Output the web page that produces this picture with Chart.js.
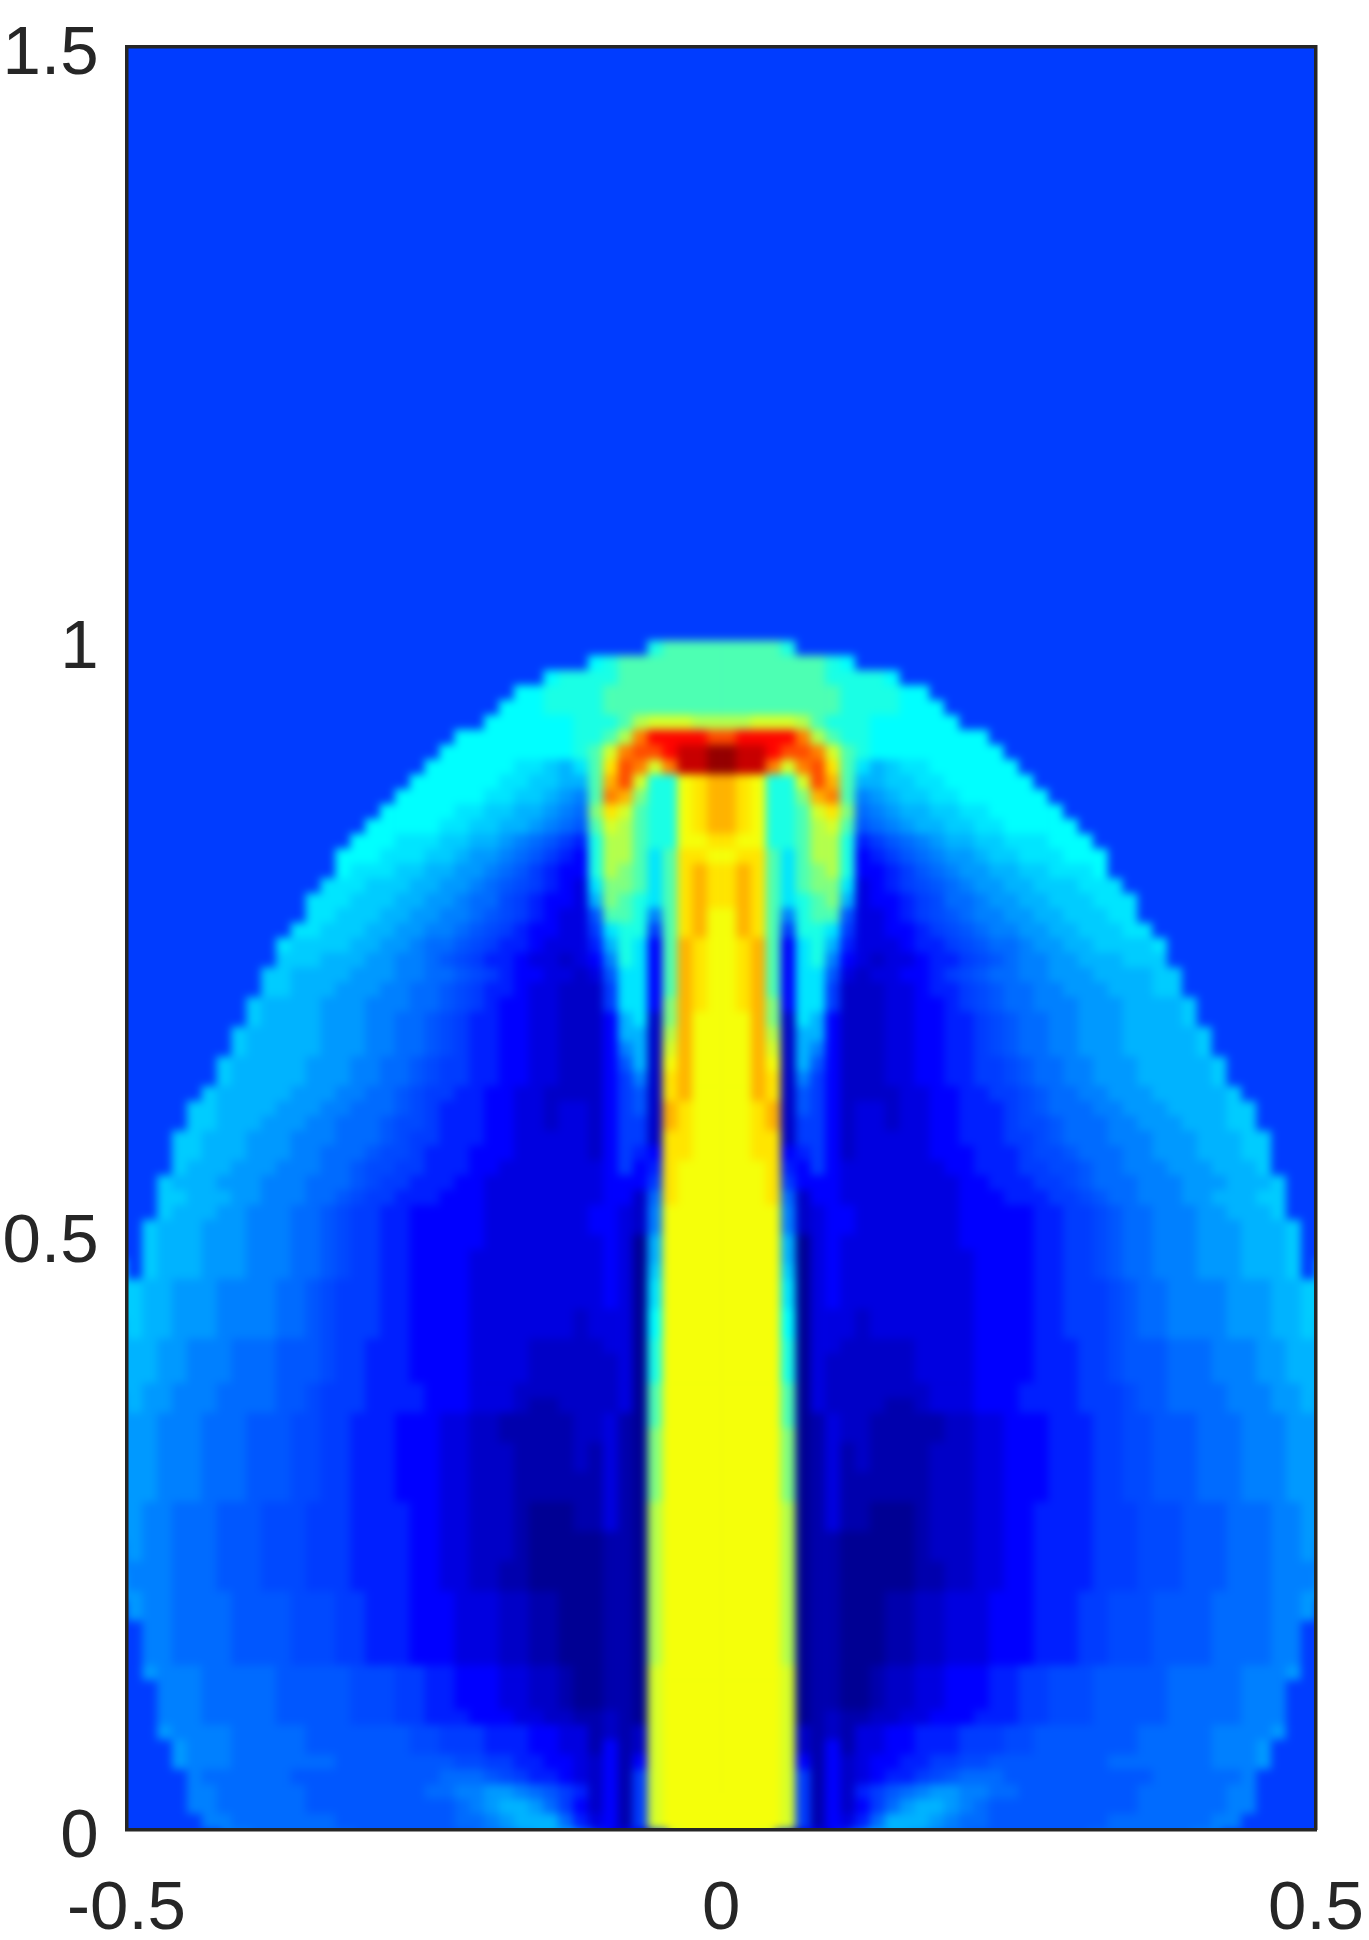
<!DOCTYPE html>
<html>
<head>
<meta charset="utf-8">
<title>Density field</title>
<script src="https://cdn.jsdelivr.net/npm/chart.js@4"></script>
<style>
    html, body { margin: 0; padding: 0; background: #fff; }
    #page { position: relative; width: 1369px; height: 1940px; overflow: hidden; }
    #fieldClip { position: absolute; left: 127px; top: 47px; width: 1189px; height: 1782px; overflow: hidden; background: #003cff; }
    #field { position: absolute; left: -40px; top: -40px; filter: blur(4.5px); }
    #frame { position: absolute; left: 0; top: 0; }
</style>
</head>
<body>
<div id="page">
    <div id="fieldClip"><canvas id="field" width="1269" height="1862"></canvas></div>
    <canvas id="frame" width="1369" height="1940"></canvas>
</div>
<script>
// Tick labels
const xTicks = [-0.5, 0, 0.5];
const yTicks = [0, 0.5, 1, 1.5];

// One letter per colour level, a = darkest blue ... u = darkest red,
// upper case letters are the steps in between for the blue part
const levelChars = 'aAbBcCdDeEfFgGhHijklmnopqrstu';
const levelValues = [0.02, 0.045, 0.07, 0.095, 0.125, 0.155, 0.184, 0.197, 0.21, 0.23, 0.25, 0.275, 0.30, 0.325, 0.35, 0.375,
    0.40, 0.45, 0.50, 0.55, 0.585, 0.615, 0.65, 0.70, 0.75, 0.80, 0.87, 0.93, 0.98];

// Cell size in data units
const cellSize = 0.0125;

// Right half of the field, from the top row (y = 1.5) to the
// bottom row (y = 0), starting at x = 0. The left half is its mirror image.
const fieldRows = [
    // above the bow shock, y 1.5 to 1
    'dddddddddddddddddddddddddddddddddddddddd', 'dddddddddddddddddddddddddddddddddddddddd',
    'dddddddddddddddddddddddddddddddddddddddd', 'dddddddddddddddddddddddddddddddddddddddd',
    'dddddddddddddddddddddddddddddddddddddddd', 'dddddddddddddddddddddddddddddddddddddddd',
    'dddddddddddddddddddddddddddddddddddddddd', 'dddddddddddddddddddddddddddddddddddddddd',
    'dddddddddddddddddddddddddddddddddddddddd', 'dddddddddddddddddddddddddddddddddddddddd',
    'dddddddddddddddddddddddddddddddddddddddd', 'dddddddddddddddddddddddddddddddddddddddd',
    'dddddddddddddddddddddddddddddddddddddddd', 'dddddddddddddddddddddddddddddddddddddddd',
    'dddddddddddddddddddddddddddddddddddddddd', 'dddddddddddddddddddddddddddddddddddddddd',
    'dddddddddddddddddddddddddddddddddddddddd', 'dddddddddddddddddddddddddddddddddddddddd',
    'dddddddddddddddddddddddddddddddddddddddd', 'dddddddddddddddddddddddddddddddddddddddd',
    'dddddddddddddddddddddddddddddddddddddddd', 'dddddddddddddddddddddddddddddddddddddddd',
    'dddddddddddddddddddddddddddddddddddddddd', 'dddddddddddddddddddddddddddddddddddddddd',
    'dddddddddddddddddddddddddddddddddddddddd', 'dddddddddddddddddddddddddddddddddddddddd',
    'dddddddddddddddddddddddddddddddddddddddd', 'dddddddddddddddddddddddddddddddddddddddd',
    'dddddddddddddddddddddddddddddddddddddddd', 'dddddddddddddddddddddddddddddddddddddddd',
    'dddddddddddddddddddddddddddddddddddddddd', 'dddddddddddddddddddddddddddddddddddddddd',
    'dddddddddddddddddddddddddddddddddddddddd', 'dddddddddddddddddddddddddddddddddddddddd',
    'dddddddddddddddddddddddddddddddddddddddd', 'dddddddddddddddddddddddddddddddddddddddd',
    'dddddddddddddddddddddddddddddddddddddddd', 'dddddddddddddddddddddddddddddddddddddddd',
    'dddddddddddddddddddddddddddddddddddddddd', 'dddddddddddddddddddddddddddddddddddddddd',
    // head of the jet, y 1 to 0.875
    'jjjji',
    'jjjjjjjiH',
    'jjjjjjjiiiiH',
    'jjjjjjjjiiiiHH',
    'jjjjjjjjiiiiHHH',
    'llmmmljiiiHHHHHH',
    'rssssqljiiHHHHHHHH',
    'uttsrrqmjiHHHHHHHHH',
    'uttqmqrojhgGhhHHHHHH',
    'poniimrpjggGGhhHHHHHH',
    // lobes beside the jet
    'poniikpqjfFgGGhhHHHHHH',
    'poniijmokEfFggGGhhHHHHH',
    'poniijlmjeEfFggGGhhHHHHH',
    'onniijlliCdeEfFggGGhhhHHH',
    'noojhjllicCdeEfFFgGGhhhHHH',
    'opojhjkliccCdeEfFFggGGhhhH',
    'opojhjkkhBcCdDeEfFFggGGGhhh',
    'opojhijkgBccCdDEEfFFggGGGhhh',
    'npojfijjeBBcCdDeEffFFggGGGhh',
    'npojdiihdBBccCdDeEffFFggGGGhh',
    'nopjchigCBBBcCCdDeEEfFFggGGGGh',
    'nopjchifcBbBBcCCdDeEffFFgggGGG',
    'nopjchheBbBBccCdDeEEffFFFggggGG',
    'nopjchhdbbbBBcCCdDeEEffFFFgggGG',
    'nopkchhdbbbBBccCdDeEEfffFFFggggG',
    'nnpkbhgcbbbBBccCCdDeEEffFFFggggG',
    'nnplbggcbbbBBccCCdDeEEffFFFgggggG',
    'nnpmbgfcbbbBBccCCdDeEEffFFFgggggG',
    'nnpnbgecbbbBBccCCddDeEEffFFFgggggG',
    'nnpobfdcbbbBBccCCddDeEEffFFFgggggG',
    'nnpobedcbbbbBBccCCddDeEEffFFFgggggG',
    // jet column, y 0.6 to 0
    'nnopbedcbBBbBBccCCCdDeEEEffFFFggggGG',
    'nnopbddcbBBbBBccCCCdDDeEEEffFFFgggGG',
    'nnoobddcbBBBBBccCCCddDeEEEfffFFFgggGG',
    'nnoocCdcbBBBBBcccCCCdDDeEEEffFFFgggGG',
    'nnnoCcdcBBBBBBBccCCCddDDeEEfffFFFgggG',
    'nnnodcccBBBBBBBBccCCCddDeEEEfffFFFgggG',
    'nnnoEbccBBBBBBBBcccCCCddDeEEfffFFgggGG',
    'nnnnfbBccBBBBBBBcccccCCddDeEEfffFFgggG',
    'nnnnfbBccBBBBBBBcccccCCddDeEEfffFFFgggG',
    'nnnngaBcBBBBBBBBcccccCCddDeEEfffFFFgggG',
    'nnnngaBcBBBBBBBBBccccCCddDeEEfffFFFgggG',
    'nnnnGaBcBBBBBBBBBccccCCddDeEEfffFFFgggG',
    'nnnnhaBcBBBBBBBBBccccCCdddDeEEffffFFFggG',
    'nnnnhaBcBBBBBBBBBccccCCdddDeEEffffFFFggG',
    'nnnnHaBBBbBBBBBBBccccCCdddDeEEffffFFFggG',
    'nnnnHaBBBbBBBBBBBccccCCdddDeEEffffFFFggG',
    'nnnniaBBbbbbbBBBBccccCCCddDeeeEEEfffFFgg',
    'nnnniaBbbbbbbBBBBccccCCCddDeeeEEEfffFFgg',
    'nnnniaBbbbbbbBBBBccccCCCddDeeeEEEfffFFgg',
    'nnnnjaBbbbbbbbBBBcccCCCCdddDeeEEEEfffFFg',
    'nnnnjaBbbbbAAbBBBcccCCCCdddDeeEEEEfffFFg',
    'nnnnjaABbbAAAAAbbBBcccCCCddDDeeeEEEfffFF',
    'nnnnkaABbbAAAAAbbBBcccCCCddDDeeeEEEfffFF',
    'nnnnkaABAbAAAAbbbBBcccCCCddDDeeeEEEfffFF',
    'nnnnkaABAbAAAAbbbBBcccCCCddDDeeeEEEfffFF',
    'nnnnkaABAAAAAAbbbBBcccCCCddDDeeeEEEfffFF',
    'nnnnkaABAAAAAAbbbBBcccCCCddDDeeeEEEfffFF',
    'nnnnlaABAAaaaAbbbBBccCCCCdddDDDeeeEEEffF',
    'nnnnlaABAAaaaAbbbBBccCCCCdddDDDeeeEEEffF',
    'nnnnlaAAaaaaaAbbbBBccCCCCdddDDDeeeEEEffF',
    'nnnnlaAAaaaaaAbbbBBccCCCCdddDDDeeeEEEffF',
    'nnnnlaAAaaaaaAAbbBBccCCCCdddDDDeeeEEEfff',
    'nnnnlaAAaaaaaAAbbBBccCCCCdddDDDeeeEEEfff',
    'nnnnlaAAaaaAAbbBBBcccCCCddDDDeeeeEEEEffF',
    'nnnnlaAAaaaAAbbBBBcccCCCddDDDeeeeEEEEffF',
    'nnnnlaAAaaaAAbbBBBcccCCCddDDDeeeeEEEEff',
    'nnnnlaAAaaaAAbbBBBcccCCCddDDDeeeeEEEEff',
    'nnnnlaAAaaaAAbbBBBcccCCCddDDDeeeeEEEEff',
    'nnnnmaAAaaAbbBBcccCCddDDDeeeeeEEEEEfffF',
    'nnnnmaAAaaAbbBBcccCCddDDDeeeeeEEEEEfff',
    'nnnnmaAAaaAbbBBcccCCddDDDeeeeeEEEEEfff',
    'nnnnmaAbAAbbBBcccCCCddDDDeeeeeEEEEEfff',
    'nnnnmbAbABBccCCCdddDDeeeeeeeEEEEEffffF',
    'nnnnmbAcABBccCCCdddDDeeeeeeeEEEEEfffF',
    'nnnnmcAcbBccCCddDDeeeeeeeeEEEEEEEfffF',
    'nnnnmdAcbBcCCdDeEEEeeeeeeeeeeEEEEEEf',
    'nnnnmdAcbCdeEfFFffEEeeeeeeeeEEEEEEff',
    'nnnnmdAcbcdEFggFfEeeeeeeeeeeEEEEEEff',
    'nnnnmdAcBCEgggFfEEeeeeeeeeEEEEEEEff'
];

// Matlab style jet colour map
function jetColor(v) {
    let r = 0, g = 0, b = 0;
    if (v < 0.125) {
        b = 127 + v / 0.125 * 128;
    } else if (v < 0.375) {
        g = (v - 0.125) / 0.25 * 255;
        b = 255;
    } else if (v < 0.625) {
        r = (v - 0.375) / 0.25 * 255;
        g = 255;
        b = 255 - r;
    } else if (v < 0.875) {
        r = 255;
        g = 255 - (v - 0.625) / 0.25 * 255;
    } else {
        r = 255 - (v - 0.875) / 0.125 * 127;
    }
    return `rgb(${Math.round(r)},${Math.round(g)},${Math.round(b)})`;
}

// Build the cells of both halves. Columns past the end of a row are outside the shock.
const cells = [];
const cellColors = [];
const edgeCells = [];
const edgeColors = [];
const rowCount = fieldRows.length;
const halfColumns = 40;

fieldRows.forEach((text, rowIndex) => {
    const row = text.padEnd(halfColumns, 'd');
    const y = (rowCount - rowIndex - 0.5) * cellSize;
    for (let col = 0; col < halfColumns; col++) {
        const color = jetColor(levelValues[levelChars.indexOf(row[col])]);
        const offset = (col + 0.5) * cellSize;
        [-offset, offset].forEach(x => {
            cells.push({ x, y });
            cellColors.push(color);
            if (col === halfColumns - 1 || rowIndex === 0 || rowIndex === rowCount - 1) {
                edgeCells.push({ x, y });
                edgeColors.push(color);
            }
        });
    }
});

const plotRange = { xMin: -0.5, xMax: 0.5, yMin: 0, yMax: 1.5 };

// Blurred field, on its own canvas so the axes stay sharp
new Chart(document.getElementById('field').getContext('2d'), {
    type: 'scatter',
    data: {
        datasets: [{
            data: cells,
            pointStyle: 'rect',
            pointRadius: 11,
            pointBorderWidth: 0,
            pointBackgroundColor: cellColors,
            clip: false
        }, {
            // bigger copies of the border cells so the blur has something to spread at the edges
            data: edgeCells,
            pointStyle: 'rect',
            pointRadius: 40,
            pointBorderWidth: 0,
            pointBackgroundColor: edgeColors,
            clip: false
        }]
    },
    options: {
        responsive: false,
        animation: false,
        events: [],
        layout: { padding: 40 },
        plugins: { legend: { display: false }, tooltip: { enabled: false } },
        scales: {
            x: { display: false, min: plotRange.xMin, max: plotRange.xMax },
            y: { display: false, min: plotRange.yMin, max: plotRange.yMax }
        }
    }
});

const axisColor = '#262626';
const labelFont = '"Liberation Sans", Arial, sans-serif';

function axisOptions(position, min, max, ticks, size) {
    const horizontal = position === 'top' || position === 'bottom';
    return {
        type: 'linear',
        position,
        min,
        max,
        afterBuildTicks: scale => {
            scale.ticks = ticks.map(value => ({ value }));
        },
        afterFit: scale => {
            if (horizontal) {
                scale.height = size;
            } else {
                scale.width = size;
            }
            scale.paddingLeft = scale.paddingRight = scale.paddingTop = scale.paddingBottom = 0;
        },
        border: { display: true, color: axisColor, width: 3.5 },
        grid: { drawOnChartArea: false, drawTicks: false },
        ticks: { display: false }
    };
}

const xAxis = axisOptions('bottom', plotRange.xMin, plotRange.xMax, xTicks, 110.5);
xAxis.ticks = {
    display: true,
    autoSkip: false,
    maxRotation: 0,
    padding: 39,
    color: axisColor,
    font: { family: labelFont, size: 69 },
    callback: value => String(value)
};

const yAxis = axisOptions('left', plotRange.yMin, plotRange.yMax, yTicks, 126.5);
yAxis.ticks = {
    display: true,
    autoSkip: false,
    padding: 28,
    color: axisColor,
    // the short line height and empty first line push the label a little below its tick
    font: { family: labelFont, size: 69, lineHeight: '16px' },
    callback: value => ['', String(value)]
};

// Axes and frame on top
new Chart(document.getElementById('frame').getContext('2d'), {
    type: 'scatter',
    data: { datasets: [{ data: [] }] },
    options: {
        responsive: false,
        animation: false,
        events: [],
        layout: { padding: { top: 47, right: 53, left: 0, bottom: 0 } },
        plugins: { legend: { display: false }, tooltip: { enabled: false } },
        scales: {
            x: xAxis,
            y: yAxis,
            xTop: axisOptions('top', plotRange.xMin, plotRange.xMax, xTicks, 0),
            yRight: axisOptions('right', plotRange.yMin, plotRange.yMax, yTicks, 0)
        }
    }
});
</script>
</body>
</html>
